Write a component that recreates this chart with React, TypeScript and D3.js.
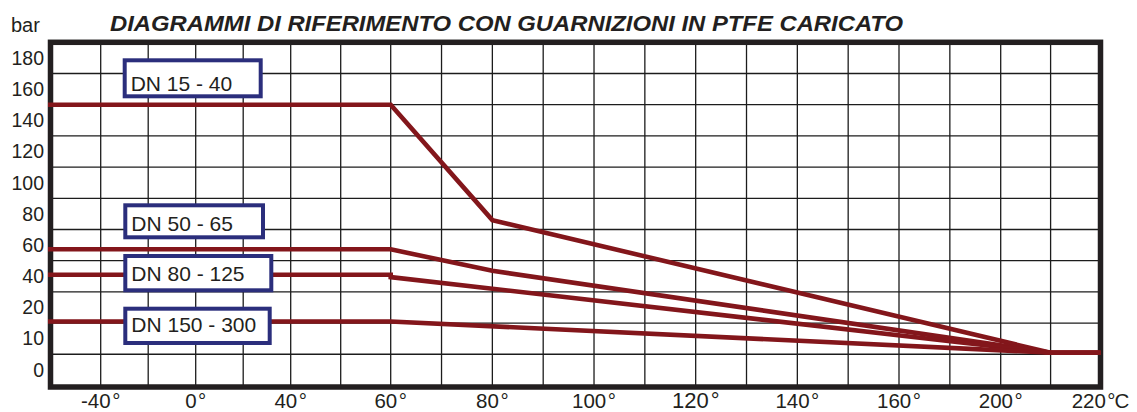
import React from "react";
import * as d3 from "d3";

// ---------- data ----------
const title = "DIAGRAMMI DI RIFERIMENTO CON GUARNIZIONI IN PTFE CARICATO";
const yUnit = "bar";

// temperature (°C) breakpoints of each curve
const tempDN15_40 = [-60, 60, 80, 210, 220];
const barDN15_40 = [150, 150, 76, 5.5, 5.5];
const tempDN50_65 = [-60, 60, 80, 210, 220];
const barDN50_65 = [57.3, 57.3, 43.5, 5.5, 5.5];
const tempDN80_125 = [-60, 60, 60, 210, 220];
const barDN80_125 = [41, 41, 39.5, 5.5, 5.5];
const tempDN150_300 = [-60, 60, 210, 220];
const barDN150_300 = [15.5, 15.5, 5.5, 5.5];

const seriesNames = ["DN 15 - 40", "DN 50 - 65", "DN 80 - 125", "DN 150 - 300"];

const xTickValues = [-40, 0, 40, 60, 80, 100, 120, 140, 160, 200, 220];
const xTickLabels = ["-40°", "0°", "40°", "60°", "80°", "100°", "120°", "140°", "160°", "200°", "220°C"];
const xGridValues = [-40, -20, 0, 20, 40, 50, 60, 70, 80, 90, 100, 110, 120, 130, 140, 150, 160, 180, 200, 210];

const yTickValues = [180, 160, 140, 120, 100, 80, 60, 40, 20, 10, 0];
const yTickLabels = ["180", "160", "140", "120", "100", "80", "60", "40", "20", "10", "0"];
const yGridValues = [5, 15, 30, 50, 70, 90, 110, 130, 150, 170];

// ---------- layout ----------
const W = 1137;
const H = 412;
const RED = "#83161b";
const NAVY = "#2b2e7c";
const INK = "#231f20";
const FONT = "'Liberation Sans', Arial, Helvetica, sans-serif";

// the original axis is piecewise (non-uniform), so use polylinear scales
const x = d3
  .scaleLinear()
  .domain([-60, -40, 40, 60, 160, 200, 220])
  .range([50.5, 100.7, 290.7, 390.7, 899, 1000.7, 1100.5]);
const y = d3.scaleLinear().domain([-5.5, 20, 190]).range([387, 307.5, 42.3]);

// label boxes (annotation layout)
const boxes = [
  { x: 122.7, y: 58.3, w: 140, h: 40, base: 91 },
  { x: 123.3, y: 203.3, w: 141.7, h: 36, base: 230.7 },
  { x: 123.3, y: 254, w: 150, h: 38.3, base: 280.7 },
  { x: 123.3, y: 306.7, w: 148.4, h: 38.3, base: 332.3 },
];

function XLabel({ label, big }: { label: string; big: boolean }) {
  const idx = label.indexOf("°");
  const num = label.slice(0, idx);
  const rest = label.slice(idx + 1);
  return (
    <>
      {num}
      <tspan dx={big ? 2 : 1.5}>°</tspan>
      {rest ? <tspan dx={-1}>{rest}</tspan> : null}
    </>
  );
}

export default function App() {
  const series = [
    d3.zip(tempDN15_40, barDN15_40),
    d3.zip(tempDN50_65, barDN50_65),
    d3.zip(tempDN80_125, barDN80_125),
    d3.zip(tempDN150_300, barDN150_300),
  ] as [number, number][][];

  const line = d3
    .line<[number, number]>()
    .x((d) => x(d[0]))
    .y((d) => y(d[1]));

  const [x0, x1] = [x(-60), x(220)];
  const [yTop, yBot] = [y(190), y(-5.5)];

  return (
    <svg
      width={W}
      height={H}
      viewBox={`0 0 ${W} ${H}`}
      style={{ position: "absolute", left: 0, top: 0, display: "block", background: "#fff" }}
      fontFamily={FONT}
    >
      <rect x={0} y={0} width={W} height={H} fill="#fff" />

      {/* title and unit */}
      <text x={11} y={31.7} fontSize={20} fill={INK}>
        {yUnit}
      </text>
      <text
        x={110}
        y={31}
        fontSize={22}
        fontWeight="bold"
        fontStyle="italic"
        fill={INK}
        textLength={793}
        lengthAdjust="spacingAndGlyphs"
      >
        {title}
      </text>

      {/* grid */}
      <g stroke="#1c1c1c" strokeWidth={1.3}>
        {xGridValues.map((v) => (
          <line key={"gx" + v} x1={x(v)} x2={x(v)} y1={yTop} y2={yBot} />
        ))}
        {yGridValues.map((v) => (
          <line key={"gy" + v} x1={x0} x2={x1} y1={y(v)} y2={y(v)} />
        ))}
      </g>

      {/* frame */}
      <rect
        x={x0}
        y={yTop}
        width={x1 - x0}
        height={yBot - yTop}
        fill="none"
        stroke={INK}
        strokeWidth={5.5}
      />

      {/* curves */}
      <g fill="none" stroke={RED} strokeWidth={4.6} strokeLinejoin="miter">
        {series.map((s, i) => (
          <path
            key={"s" + i}
            d={line(s.map((d) => (d[0] === -60 ? [-61, d[1]] : d)) as [number, number][]) || ""}
          />
        ))}
      </g>

      {/* y tick labels */}
      <g fontSize={19.5} fill={INK} textAnchor="end">
        {yTickValues.map((v, i) => (
          <text key={"yt" + v} x={44} y={y(v) + 6.8}>
            {yTickLabels[i]}
          </text>
        ))}
      </g>

      {/* x tick labels */}
      <g fill={INK} textAnchor="middle">
        {xTickValues.map((v, i) => (
          <text key={"xt" + v} x={x(v)} y={408} fontSize={v === 120 ? 22 : 20.5}>
            <XLabel label={xTickLabels[i]} big={v === 120} />
          </text>
        ))}
      </g>

      {/* series label boxes */}
      {boxes.map((b, i) => (
        <g key={"b" + i}>
          <rect
            x={b.x + 2}
            y={b.y + 2}
            width={b.w - 4}
            height={b.h - 4}
            fill="#fff"
            stroke={NAVY}
            strokeWidth={4}
          />
          <text x={b.x + 8} y={b.base} fontSize={21} fill={INK}>
            {seriesNames[i]}
          </text>
        </g>
      ))}
    </svg>
  );
}
